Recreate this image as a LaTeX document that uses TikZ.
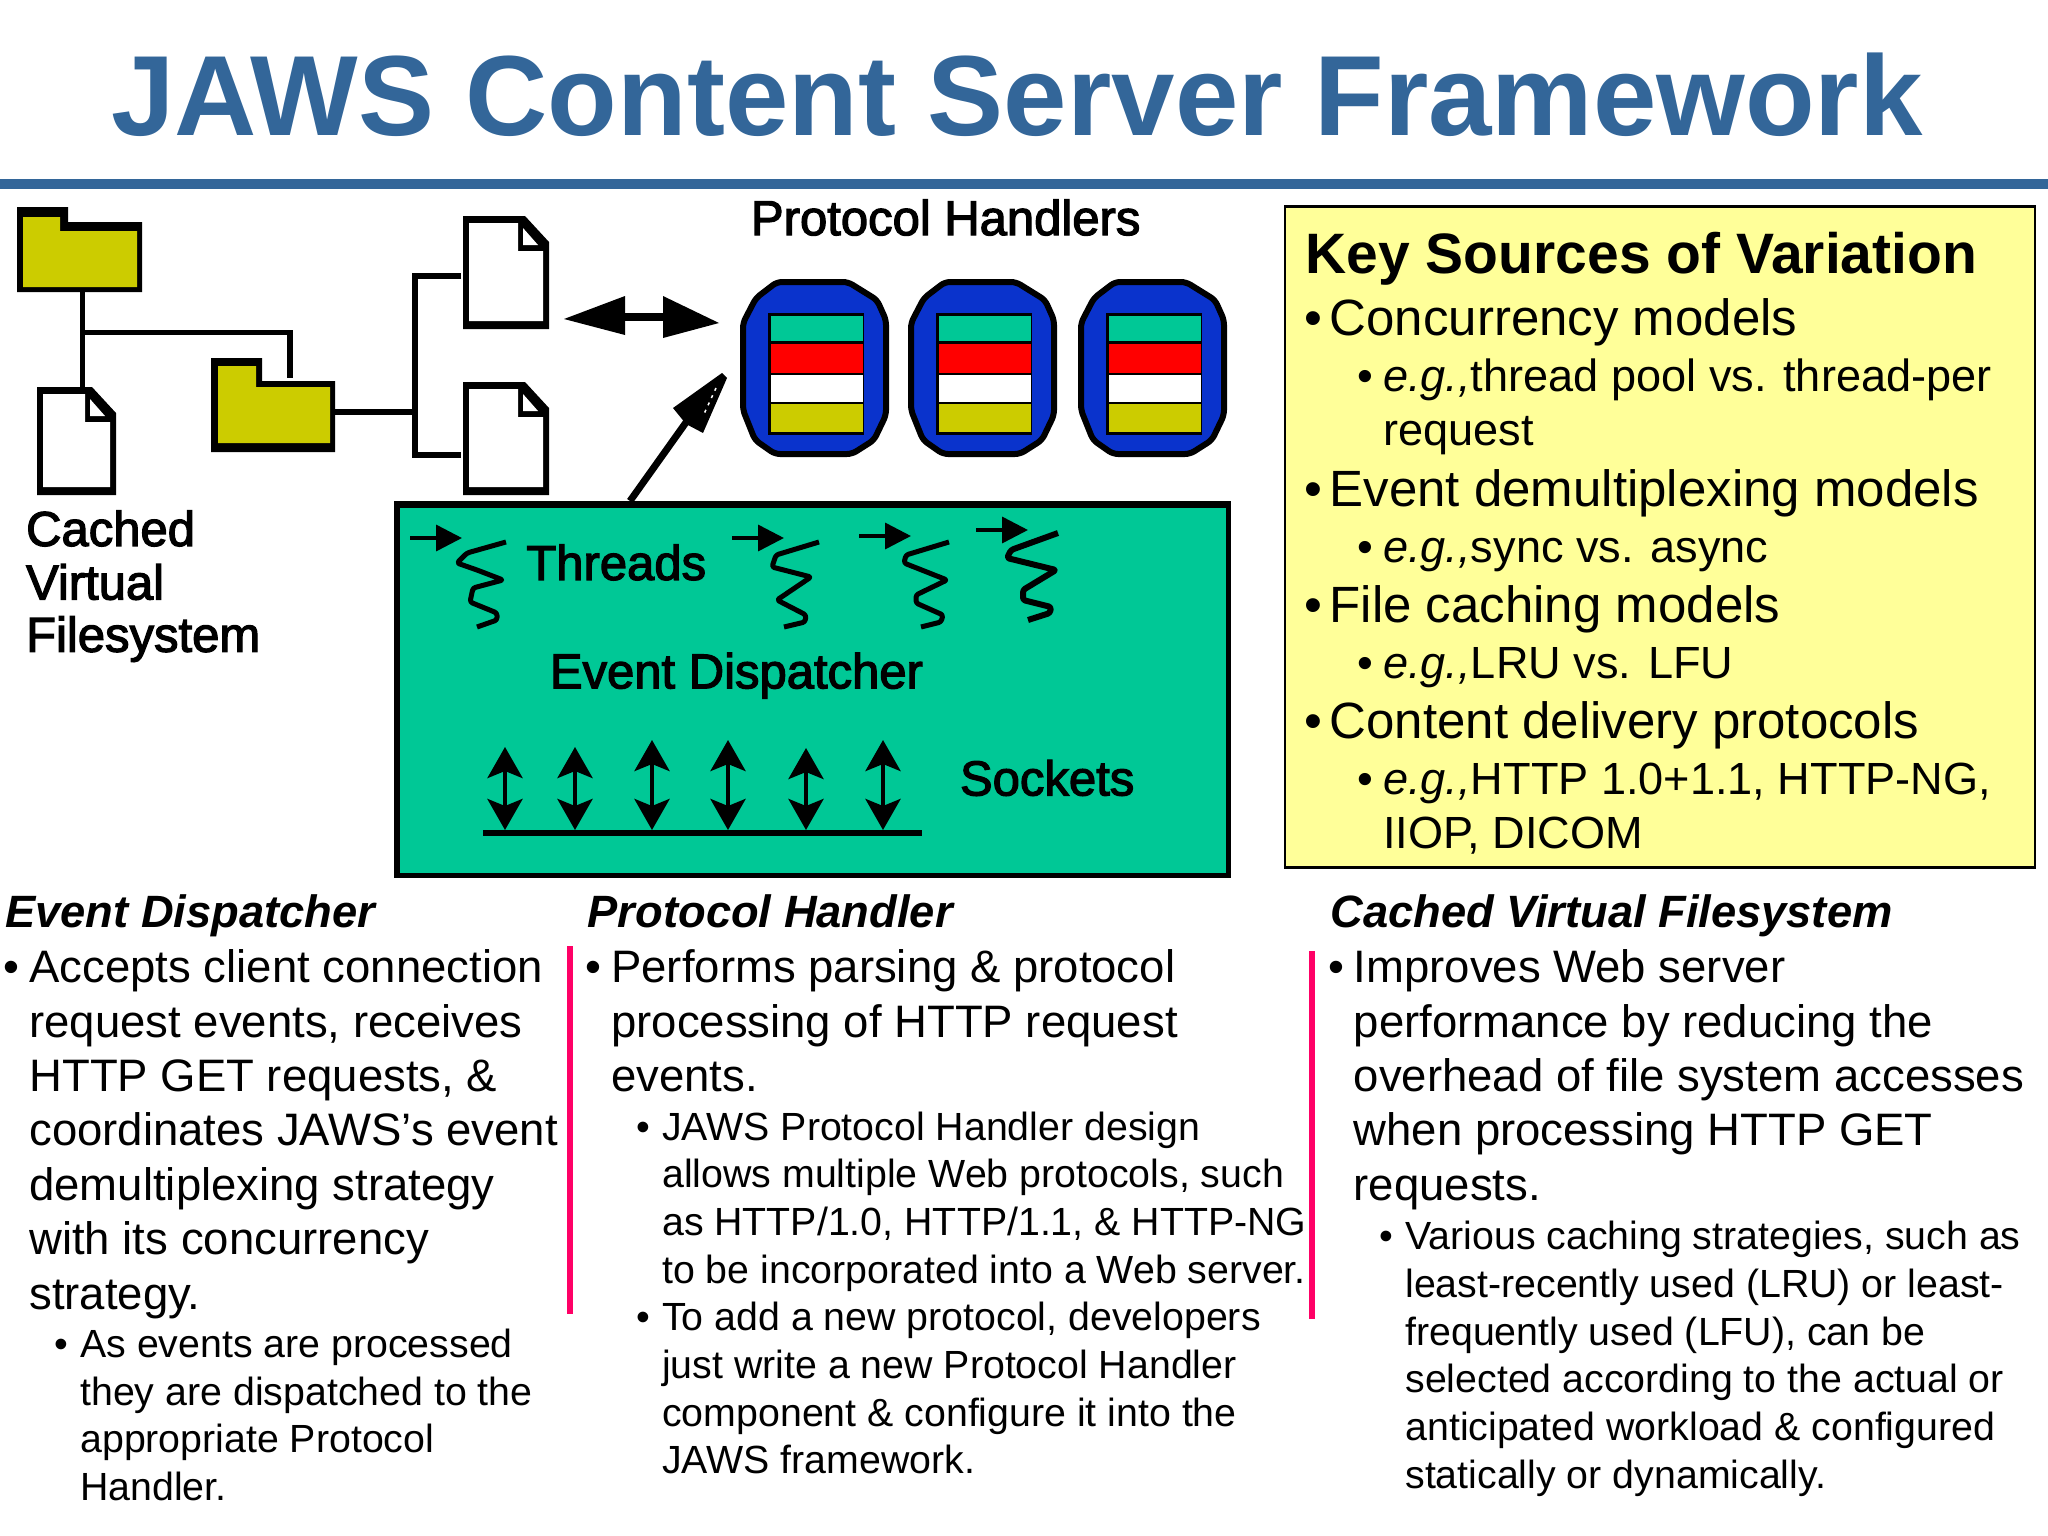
\documentclass[tikz,border=0pt]{standalone}
\usepackage{fontspec}
\setmainfont{Liberation Sans}
\newfontfamily\lblfont{Liberation Sans}[FakeBold=2.5]
\usetikzlibrary{arrows.meta}
\definecolor{titleblue}{HTML}{336699}
\definecolor{boxgreen}{HTML}{00C896}
\definecolor{folderyellow}{HTML}{CCCC00}
\definecolor{pillblue}{HTML}{0A33CC}
\definecolor{keyyellow}{HTML}{FFFF99}
\definecolor{barpink}{HTML}{FF0066}
\newcounter{tn}
\newcommand{\txt}[4]{\stepcounter{tn}\node[txtbase,#1] (t\arabic{tn}) at (#2,#3) {#4};}
\newcommand{\bul}[4]{\stepcounter{tn}\node[txtbase,#1] (t\arabic{tn}) at (#2-1,#3) {•};\txt{#1}{#2+18.5}{#3}{#4}}
\newcommand{\fsz}[1]{\fontsize{#1pt}{#1pt}\selectfont}
\newcommand{\pagesym}[4]{%
 \fill[black] (#1,#2) -- ({#1+#3-24},#2) -- ({#1+#3},{#2+26}) -- ({#1+#3},{#2+#4}) -- (#1,{#2+#4}) -- cycle;
 \fill[white] ({#1+6},{#2+7}) -- ({#1+#3-31},{#2+7}) -- ({#1+#3-31},{#2+35}) -- ({#1+#3-6},{#2+35}) -- ({#1+#3-6},{#2+#4-8}) -- ({#1+6},{#2+#4-8}) -- cycle;
 \fill[white] ({#1+#3-26},{#2+12}) -- ({#1+#3-11},{#2+29}) -- ({#1+#3-26},{#2+29}) -- cycle;
}
\tikzset{
 txtbase/.style={anchor=base west,inner sep=0pt,outer sep=0pt,text=black},
 title/.style={font=\fsz{114}\bfseries,text=titleblue},
 main/.style={font=\fsz{45.5}},
 sub/.style={font=\fsz{39.3}},
 head/.style={font=\fsz{45.3}\bfseries\itshape},
 keyhead/.style={font=\fsz{57}\bfseries},
 keymain/.style={font=\fsz{51}},
 keysub/.style={font=\fsz{45.1}},
 lbl/.style={font=\lblfont\fsz{49}},
 wire/.style={line width=5.5pt,line cap=butt,line join=miter},
 thread/.style={line width=5pt,black,rounded corners=2.5pt,line join=round},
 tick/.style={line width=3.5pt,-{Triangle[length=26pt,width=26pt]}},
 sock/.style={line width=4.5pt,{Stealth[length=31pt,width=35pt,inset=7pt]}-{Stealth[length=31pt,width=35pt,inset=7pt]}},
}
\begin{document}
\begin{tikzpicture}[x=1.30612pt,y=-1.30612pt]
\useasboundingbox (0,0) rectangle (1568,1176);
\txt{title}{85}{104}{JAWS Content Server Framework}
\fill[titleblue] (0,137) rectangle (1568,145);
%
\begin{scope}[x=1pt,y=-1pt]
 % green box
 \fill[black] (394,501) rectangle (1231,878);
 \fill[boxgreen] (400,508) rectangle (1226,873);
 % coordinates
 \coordinate (fa) at (82.5,292); \coordinate (d1) at (82.5,388);
 \coordinate (br) at (82.5,332.5); \coordinate (brc) at (290,332.5); \coordinate (fb) at (290,378);
 \coordinate (fbr) at (335,412); \coordinate (j) at (415,412);
 \coordinate (jt) at (415,276); \coordinate (jb) at (415,455);
 \coordinate (d2) at (461,276); \coordinate (d3) at (461,455);
 \coordinate (ed) at (630,501); \coordinate (ph) at (687,421);
 % wires
 \draw[wire] (fa) -- (d1);
 \draw[wire] (br) -- (brc) -- (fb);
 \draw[wire,line width=6pt] (fbr) -- (j);
 \draw[wire] (d2) -- (jt) -- (jb) -- (d3);
 % folders
 \fill[black] (17,207) -- (68,207) -- (68,222) -- (142,222) -- (142,292) -- (17,292) -- cycle;
 \fill[folderyellow] (23,217) -- (60,217) -- (60,231) -- (137,231) -- (137,287) -- (23,287) -- cycle;
 \fill[black] (211,358) -- (262,358) -- (262,381) -- (335,381) -- (335,452) -- (211,452) -- cycle;
 \fill[folderyellow] (218,366) -- (256,366) -- (256,387) -- (330,387) -- (330,443) -- (218,443) -- cycle;
 % pages
 \pagesym{37}{387}{79}{108}
 \pagesym{463}{216}{86}{113}
 \pagesym{463}{382}{86}{113}
 % double arrow
 \coordinate (aL) at (564,319); \coordinate (aR) at (719,323);
 \fill[black] (aL) -- (625,296) -- (625,335) -- cycle;
 \fill[black] (aR) -- (663,296) -- (663,338) -- cycle;
 \draw[line width=8pt] (625,317) -- (663,317);
 % arrow to handlers
 \draw[line width=7pt] (ed) -- (ph);
 \fill[black] (722,373) -- (673,408) -- (686,424) -- (703,433) -- (727,378) -- cycle;
 \draw[white,line width=1.5pt,dash pattern=on 3pt off 5pt] (716,388) -- (704,414);
 % protocol handler pills
 \foreach \o in {0,168,338}{
  \draw[fill=pillblue,draw=black,line width=6pt,rounded corners=5pt]
   ({\o+777},282) -- ({\o+848},282) -- ({\o+877},300) -- ({\o+886},320) -- ({\o+886},415) -- ({\o+874},440) -- ({\o+852},454) -- ({\o+775},454) -- ({\o+755},440) -- ({\o+743},410) -- ({\o+743},323) -- ({\o+756},298) -- cycle;
  \fill[black] ({\o+768},313) rectangle ({\o+864},435);
  \fill[boxgreen] ({\o+771},316) rectangle ({\o+863},341);
  \fill[red] ({\o+771},343.5) rectangle ({\o+863},373);
  \fill[white] ({\o+771},375) rectangle ({\o+863},402);
  \fill[folderyellow] ({\o+771},403.5) rectangle ({\o+863},432);
 }
 % threads
 \foreach \ax/\ay/\n in {410/538/a,732/538/b,859/536/c,976/530/d}{
  \coordinate (ts\n) at (\ax,\ay); \coordinate (te\n) at ({\ax+52},\ay);
  \draw[tick] (ts\n) -- (te\n);
 }
 \draw[thread] (506,542) -- (467,553) -- (457,563) -- (477,570) -- (503,580) -- (473,588) -- (470,602) -- (497,613) -- (497,620) -- (477,627);
 \draw[thread] (819,542) -- (776,555) -- (772,567) -- (811,577) -- (777,600) -- (806,615) -- (805,622) -- (784,627);
 \draw[thread] (949,542) -- (906,555) -- (904,563) -- (947,580) -- (916,595) -- (916,603) -- (943,615) -- (941,622) -- (921,627);
 \draw[thread,line width=6pt] (1058,533) -- (1011,550) -- (1007,558) -- (1056,570) -- (1023,590) -- (1023,600) -- (1051,607) -- (1050,613) -- (1028,620);
 % sockets
 \foreach \sx/\st in {505/747,575/747,652/740,728/740,806/748,883/740}{
  \coordinate (s1\sx) at (\sx,\st); \coordinate (s2\sx) at (\sx,830);
  \draw[sock] (s1\sx) -- (s2\sx);
 }
 \coordinate (bl) at (483,833); \coordinate (br2) at (922,833);
 \draw[line width=6pt] (bl) -- (br2);
\end{scope}
% diagram labels
\txt{lbl}{575}{180}{Protocol Handlers}
\txt{lbl}{20}{418}{Cached}
\txt{lbl}{20}{459}{Virtual}
\txt{lbl}{20}{499}{Filesystem}
\txt{lbl}{403}{444}{Threads}
\txt{lbl}{421}{527}{Event Dispatcher}
\txt{lbl}{735}{609}{Sockets}
% key box
\draw[fill=keyyellow,draw=black,line width=2.5pt] (984,158) rectangle (1558,664);
\txt{keyhead}{999.5}{209.5}{Key Sources of Variation}
\bul{keymain}{999.5}{257}{Concurrency models}
\bul{keysub}{1040.5}{300}{\textit{e.g.,}thread pool vs. thread-per}
\txt{keysub}{1059}{341}{request}
\bul{keymain}{999.5}{387.5}{Event demultiplexing models}
\bul{keysub}{1040.5}{431}{\textit{e.g.,}sync vs. async}
\bul{keymain}{999.5}{476.5}{File caching models}
\bul{keysub}{1040.5}{519.5}{\textit{e.g.,}LRU vs. LFU}
\bul{keymain}{999.5}{565.5}{Content delivery protocols}
\bul{keysub}{1040.5}{608.5}{\textit{e.g.,}HTTP 1.0+1.1, HTTP-NG,}
\txt{keysub}{1059}{649.5}{IIOP, DICOM}
% separators
\fill[barpink] (434,724) rectangle (439,1006);
\fill[barpink] (1002,728) rectangle (1007,1010);
% col 1
\txt{head}{4}{710}{Event Dispatcher}
\bul{main}{4}{752}{Accepts client connection}
\txt{main}{22.5}{794}{request events, receives}
\txt{main}{22.5}{835.5}{HTTP GET requests, \&}
\txt{main}{22.5}{877}{coordinates JAWS’s event}
\txt{main}{22.5}{919}{demultiplexing strategy}
\txt{main}{22.5}{960.5}{with its concurrency}
\txt{main}{22.5}{1002.5}{strategy.}
\bul{sub}{43}{1039}{As events are processed}
\txt{sub}{61.5}{1076}{they are dispatched to the}
\txt{sub}{61.5}{1112}{appropriate Protocol}
\txt{sub}{61.5}{1149}{Handler.}
% col 2
\txt{head}{450}{710}{Protocol Handler}
\bul{main}{449.5}{752}{Performs parsing \& protocol}
\txt{main}{468}{794}{processing of HTTP request}
\txt{main}{468}{835.5}{events.}
\bul{sub}{488.5}{873}{JAWS Protocol Handler design}
\txt{sub}{507}{909.5}{allows multiple Web protocols, such}
\txt{sub}{507}{946}{as HTTP/1.0, HTTP/1.1, \& HTTP-NG}
\txt{sub}{507}{982.5}{to be incorporated into a Web server.}
\bul{sub}{488.5}{1019}{To add a new protocol, developers}
\txt{sub}{507}{1055.5}{just write a new Protocol Handler}
\txt{sub}{507}{1092}{component \& configure it into the}
\txt{sub}{507}{1128.5}{JAWS framework.}
% col 3
\txt{head}{1018.5}{710}{Cached Virtual Filesystem}
\bul{main}{1018}{752}{Improves Web server}
\txt{main}{1036.5}{794}{performance by reducing the}
\txt{main}{1036.5}{835.5}{overhead of file system accesses}
\txt{main}{1036.5}{877}{when processing HTTP GET}
\txt{main}{1036.5}{919}{requests.}
\bul{sub}{1057.5}{957}{Various caching strategies, such as}
\txt{sub}{1076}{993.5}{least-recently used (LRU) or least-}
\txt{sub}{1076}{1030}{frequently used (LFU), can be}
\txt{sub}{1076}{1066.5}{selected according to the actual or}
\txt{sub}{1076}{1103}{anticipated workload \& configured}
\txt{sub}{1076}{1139.5}{statically or dynamically.}
\end{tikzpicture}
\end{document}
